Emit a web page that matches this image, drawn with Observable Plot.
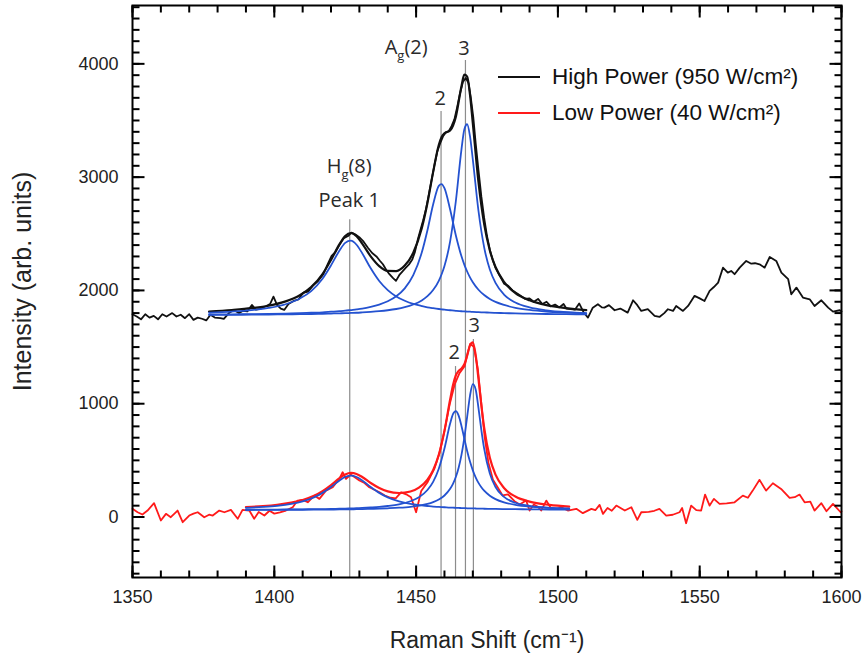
<!DOCTYPE html>
<html><head><meta charset="utf-8">
<script src="https://cdn.jsdelivr.net/npm/d3@7"></script>
<script src="https://cdn.jsdelivr.net/npm/@observablehq/plot@0.6"></script>
<style>
body{margin:0;background:#fff;}
#wrap{position:relative;width:865px;height:666px;font-family:"Liberation Sans",Arial,sans-serif;}
.legend{position:absolute;left:498px;top:0;font-size:22.5px;color:#111;}
.legend .row{position:absolute;left:0;display:flex;align-items:center;height:36px;white-space:nowrap;}
.legend .sw{width:42px;height:2px;margin-right:12px;}
</style></head><body><div id="wrap"></div>
<script>
// ---------- data ----------
const xTicks = [1350, 1400, 1450, 1500, 1550, 1600];
const yTicks = [0, 1000, 2000, 3000, 4000];
const xDomain = [1350, 1600];
const yDomain = [-534, 4515];
const xTitle = "Raman Shift (cm\u207B\u00B9)";
const yTitle = "Intensity (arb. units)";
const seriesNames = ["High Power (950 W/cm\u00B2)", "Low Power (40 W/cm\u00B2)"];
const seriesColors = ["#111111", "#ff1a1a"];
const fitColor = "#2452d0";

const highPowerSpectrum = [
[1350,1790],[1351.5,1770],[1353,1745],[1354.5,1790],[1356,1760],[1357.5,1775],[1359,1745],[1360.5,1790],[1362,1770],[1364,1800],
[1365.5,1770],[1367,1785],[1368.5,1755],[1370,1790],[1371.5,1740],[1373,1760],[1374.5,1750],[1376,1735],[1377.5,1785],[1379,1760],
[1381,1755],[1382.2,1749],[1384,1800],[1385.7,1828],[1387.5,1800],[1389,1820],[1390.5,1815],[1392.1,1872],[1393.5,1830],[1395,1837],
[1397,1860],[1398.5,1880],[1399.7,1945],[1401,1870],[1402.3,1840],[1403.5,1828],[1405,1880],[1406.8,1907],[1408.5,1920],[1410.3,1981],
[1412,1990],[1413.5,2040],[1415.3,2080],[1417.3,2143],[1418.8,2230],[1420.2,2304],[1421.6,2340],[1423.1,2407],[1424.5,2460],[1426,2480],
[1427.2,2510],[1428.5,2495],[1430.2,2465],[1431.5,2430],[1433,2377],[1434.5,2330],[1436,2300],[1437.3,2260],[1438.3,2231],[1439.5,2180],
[1440.6,2143],[1441.8,2110],[1442.9,2084],[1444.2,2140],[1445.3,2170],[1446.4,2201],[1447.5,2230],[1448.6,2270],[1449.6,2340],[1450.6,2450],
[1451.6,2540],[1452.5,2620],[1453.5,2720],[1454.5,2850],[1455.5,2980],[1456.5,3110],[1457.5,3230],[1458.5,3300],[1459.5,3360],[1460.5,3395],
[1461.5,3405],[1462.5,3450],[1463.5,3510],[1464.5,3620],[1465.5,3740],[1466.5,3840],[1467.5,3875],[1468.5,3830],[1469.3,3700],[1470.2,3520],
[1471,3300],[1472,3060],[1473,2830],[1474,2640],[1475,2480],[1476,2360],[1477,2270],[1478,2200],[1479.5,2130],[1481,2060],
[1482.5,2040],[1484,2000],[1485.5,1975],[1487,1950],[1488.5,1925],[1490,1930],[1491.5,1900],[1493,1925],[1494.5,1880],[1496,1900],
[1497.5,1860],[1499,1875],[1500.5,1850],[1502,1880],[1503,1840],[1504.5,1835],[1506,1830],[1507.5,1885],[1509,1810],[1510.6,1760],
[1512.3,1848],[1514.1,1878],[1515.5,1850],[1516.4,1848],[1518,1870],[1520,1825],[1522,1840],[1524.6,1804],[1526.5,1913],[1528,1870],
[1529.4,1819],[1531.7,1834],[1534.1,1775],[1535.8,1766],[1537.5,1800],[1538.8,1834],[1540.6,1819],[1541.7,1863],[1544.1,1819],[1545.9,1863],
[1548.2,1952],[1550,1930],[1551.7,1907],[1553.5,1996],[1555,2030],[1556.5,2069],[1558.2,2201],[1559.9,2157],[1561.1,2172],[1562.3,2143],
[1564.1,2201],[1566.4,2260],[1568.2,2236],[1569.5,2240],[1571.1,2231],[1572.9,2201],[1574.7,2295],[1577,2260],[1578.8,2157],[1581.2,2099],
[1582.3,1966],[1584.1,2025],[1586.4,1937],[1588.8,1922],[1590.5,1863],[1592.9,1913],[1595.3,1848],[1597,1813],[1599.4,1825],[1600,1815]
];

const lowPowerSpectrum = [
[1350,72],[1351.8,42],[1353.5,22],[1355.3,57],[1357.6,122],[1360,-31],[1361.8,28],[1363.5,-2],[1365.9,57],[1367.7,-46],
[1370,13],[1371.5,30],[1373,42],[1375.3,-2],[1377,20],[1378.3,13],[1380.6,57],[1382.4,42],[1384.7,63],[1387.1,-16],
[1388.8,63],[1391.2,57],[1392.9,-16],[1394.5,45],[1396.5,13],[1398.3,55],[1400,30],[1402,40],[1404.1,57],[1406.5,86],
[1408.2,145],[1410,150],[1411.8,130],[1414.1,189],[1415.9,160],[1418.2,233],[1420.6,263],[1422.9,336],[1424.1,395],[1425.3,336],
[1427,374],[1430,322],[1431.8,300],[1433.5,263],[1435.3,240],[1437.1,218],[1439,190],[1441,170],[1442.8,165],[1444.7,218],
[1446.5,200],[1448.2,175],[1450,42],[1451.8,230],[1454.1,310],[1456.5,430],[1458.2,560],[1460,760],[1461.8,990],[1463.6,1170],
[1465.3,1270],[1467.1,1330],[1468.2,1450],[1469.1,1530],[1470.4,1500],[1471.8,1300],[1473,1000],[1474.2,700],[1475.5,480],[1477.1,330],
[1478.8,260],[1480.5,190],[1482.4,200],[1484.7,140],[1486.5,110],[1488.8,145],[1490,57],[1491.5,110],[1493,90],[1494.1,57],
[1495.9,145],[1497.5,80],[1499.5,70],[1501.2,86],[1503.5,57],[1506.5,72],[1508.8,34],[1511.8,72],[1513.2,60],[1514.7,107],
[1515.9,28],[1517.5,80],[1519,55],[1520.6,101],[1523.6,57],[1525.9,86],[1528,-25],[1529.4,42],[1532,45],[1534,55],
[1535.8,72],[1538.2,13],[1540.5,20],[1542.9,42],[1543.8,80],[1545.2,-55],[1547,101],[1548.8,60],[1550.5,57],[1551.9,198],
[1553.5,101],[1555,160],[1557,116],[1559.5,120],[1562.3,130],[1565.2,189],[1567,170],[1568.7,233],[1571.1,328],[1573.4,233],
[1575.8,298],[1578.7,248],[1581.7,169],[1583.5,175],[1585.2,198],[1587,130],[1589,135],[1590.5,57],[1592.9,122],[1594.7,51],
[1597,116],[1599.7,42],[1600,50]
];

// fitted curves, high power
const fitHighShift = [1377,1385,1392,1398,1404,1409,1413,1417,1420,1423,1425,1427,1429,1431,1434,1437,1440,1443,1446,1449,1452,1454,1456,1458,1459,1460,1462,1464,1466,1467,1468,1469,1470,1472,1474,1476,1478,1481,1485,1490,1496,1503,1510];
const fitHighPeak1 = [1803,1813,1826,1845,1878,1928,1994,2103,2221,2353,2420,2439,2403,2328,2195,2083,2003,1947,1909,1881,1862,1851,1843,1836,1833,1830,1825,1820,1816,1815,1813,1812,1810,1808,1806,1804,1802,1800,1797,1795,1792,1790,1788];
const fitHighPeak2 = [1787,1789,1791,1793,1796,1799,1803,1807,1812,1817,1821,1827,1833,1840,1855,1875,1904,1948,2018,2135,2334,2531,2758,2923,2939,2902,2714,2487,2301,2228,2167,2115,2072,2006,1959,1925,1899,1872,1847,1828,1814,1805,1798];
const fitHighPeak3 = [1784,1785,1786,1787,1789,1790,1792,1794,1796,1798,1799,1801,1803,1806,1811,1817,1825,1836,1852,1876,1912,1949,2003,2085,2143,2216,2433,2785,3246,3421,3467,3362,3155,2701,2380,2184,2066,1963,1893,1850,1824,1808,1800];
const fitHighSum   = [1814,1827,1843,1865,1903,1957,2029,2144,2269,2408,2480,2507,2479,2414,2301,2215,2172,2171,2219,2332,2548,2771,3044,3284,3355,3388,3412,3532,3803,3904,3887,3729,3477,2955,2585,2353,2207,2075,1977,1913,1870,1843,1826];

// fitted curves, low power
const fitLowShift = [1390,1396,1401,1406,1410,1414,1417,1420,1423,1425,1427,1429,1431,1434,1437,1440,1444,1448,1451,1454,1456,1458,1460,1462,1463,1464,1465,1466,1467,1468,1469,1470,1471,1472,1473,1474,1476,1478,1481,1485,1490,1497,1504];
const fitLowPeak1 = [81,89,99,116,138,173,213,265,323,353,365,353,323,265,213,173,138,116,105,97,92,89,86,83,82,81,80,79,78,77,76,76,75,74,74,73,72,71,70,69,68,66,65];
const fitLowPeak2 = [64,65,66,67,68,69,70,71,73,74,76,78,80,84,89,97,112,139,174,238,310,426,604,825,908,935,895,804,692,583,489,412,350,301,263,232,188,158,129,107,91,80,73];
const fitLowPeak3 = [62,63,63,64,64,65,65,66,67,67,68,69,70,72,74,77,82,90,100,115,131,154,190,249,293,353,435,548,698,884,1070,1173,1126,962,770,603,383,265,177,126,98,81,73];
const fitLowSum   = [87,96,108,127,150,187,228,282,343,375,389,380,353,300,256,226,212,225,259,330,413,549,760,1037,1163,1249,1290,1311,1348,1424,1515,1541,1431,1217,987,788,523,374,256,181,136,107,92];

// peak marker lines and labels
const peakLineShift = [1426.6, 1458.8, 1467.4, 1463.9, 1470.2];
const peakLineTop   = [2623, 3579, 4029, 1328, 1567];
const labelText  = ["H_g(8)", "Peak 1", "A_g(2)", "3", "2", "3", "2"];
const labelShift = [1426.4, 1426.4, 1446.5, 1466.9, 1458.5, 1470.5, 1463.4];
const labelValue = [3094, 2793, 4144, 4135, 3694, 1690, 1452];

// ---------- build ----------
const W = 865, H = 666, mL = 132, mR = 24, mT = 5, mB = 89;
const innerW = W - mL - mR, innerH = H - mT - mB;
const xMinor = d3.range(1350, 1601, 10);
const yMinor = d3.range(-500, 4501, 100);
const majorLen = 12, minorLen = 7;
// tick lengths in pixels converted into the scales' units
const yPerPx = (yDomain[1] - yDomain[0]) / innerH;
const xPerPx = (xDomain[1] - xDomain[0]) / innerW;

const toRows = (xs, ys) => xs.map((x, i) => ({x, y: ys[i]}));
const peakLines = peakLineShift.map((x, i) => ({x, top: peakLineTop[i]}));
const labels = labelText.map((t, i) => ({t, x: labelShift[i], y: labelValue[i]}));

// inward ticks on all four sides
const tickRows = [];
for (const [vals, len] of [[xMinor, minorLen], [xTicks, majorLen]]) {
  for (const v of vals) {
    tickRows.push({x1: v, x2: v, y1: yDomain[0], y2: yDomain[0] + len * yPerPx});
    tickRows.push({x1: v, x2: v, y1: yDomain[1] - len * yPerPx, y2: yDomain[1]});
  }
}
for (const [vals, len] of [[yMinor, minorLen], [yTicks, majorLen]]) {
  for (const v of vals) {
    tickRows.push({x1: xDomain[0], x2: xDomain[0] + len * xPerPx, y1: v, y2: v});
    tickRows.push({x1: xDomain[1] - len * xPerPx, x2: xDomain[1], y1: v, y2: v});
  }
}

const fitStyle = {x: "x", y: "y", stroke: fitColor, strokeWidth: 1.8, curve: "monotone-x"};

const chart = Plot.plot({
  width: W, height: H,
  marginLeft: mL, marginRight: mR, marginTop: mT, marginBottom: mB,
  x: {domain: xDomain, axis: null},
  y: {domain: yDomain, axis: null},
  style: {fontFamily: '"Liberation Sans", Arial, sans-serif', background: "white", color: "#111"},
  marks: [
    Plot.ruleX(peakLines, {x: "x", y1: yDomain[0], y2: "top", stroke: "#8c8c8c", strokeWidth: 1.2}),
    Plot.line(highPowerSpectrum, {x: d => d[0], y: d => d[1], stroke: seriesColors[0], strokeWidth: 1.8}),
    Plot.line(toRows(fitHighShift, fitHighSum), {x: "x", y: "y", stroke: seriesColors[0], strokeWidth: 2.2, curve: "monotone-x"}),
    Plot.line(toRows(fitHighShift, fitHighPeak1), fitStyle),
    Plot.line(toRows(fitHighShift, fitHighPeak2), fitStyle),
    Plot.line(toRows(fitHighShift, fitHighPeak3), fitStyle),
    Plot.line(lowPowerSpectrum, {x: d => d[0], y: d => d[1], stroke: seriesColors[1], strokeWidth: 1.8}),
    Plot.line(toRows(fitLowShift, fitLowSum), {x: "x", y: "y", stroke: seriesColors[1], strokeWidth: 2.2, curve: "monotone-x"}),
    Plot.line(toRows(fitLowShift, fitLowPeak1), fitStyle),
    Plot.line(toRows(fitLowShift, fitLowPeak2), fitStyle),
    Plot.line(toRows(fitLowShift, fitLowPeak3), fitStyle),
    Plot.link(tickRows, {x1: "x1", x2: "x2", y1: "y1", y2: "y2", stroke: "black", strokeWidth: 2}),
    Plot.frame({stroke: "black", strokeWidth: 2}),
    Plot.text(xTicks, {x: d => d, frameAnchor: "bottom", lineAnchor: "top", dy: 13, text: d => String(d), fontSize: 18, fill: "#222"}),
    Plot.text(yTicks, {y: d => d, frameAnchor: "left", textAnchor: "end", dx: -14, text: d => String(d), fontSize: 18, fill: "#222"}),
    Plot.text([xTitle], {frameAnchor: "bottom", lineAnchor: "middle", textAnchor: "middle", dy: 63, text: d => d, fontSize: 23, fill: "#222"}),
    Plot.text([yTitle], {frameAnchor: "left", lineAnchor: "middle", textAnchor: "middle", dx: -110, dy: -10, rotate: -90, text: d => d, fontSize: 25, fill: "#222"}),
    Plot.text(labels, {x: "x", y: "y", text: "t", fontFamily: '"Open Sans", sans-serif', fontSize: 20, fill: "#2a2a2a"})
  ]
});

// subscripts (H_g, A_g)
d3.select(chart).selectAll("text").each(function () {
  const m = /^(\w)_(\w)(.*)$/.exec(this.textContent);
  if (!m) return;
  const s = d3.select(this);
  s.text(null);
  s.append("tspan").text(m[1]);
  s.append("tspan").attr("font-size", 13).attr("dy", 6).text(m[2]);
  s.append("tspan").attr("dy", -6).text(m[3]);
});

const wrap = document.getElementById("wrap");
wrap.appendChild(chart);

// legend (inside the plot, top right)
const legend = document.createElement("div");
legend.className = "legend";
seriesNames.forEach((name, i) => {
  const row = document.createElement("div");
  row.className = "row";
  row.style.top = (59 + i * 36) + "px";
  const sw = document.createElement("span");
  sw.className = "sw";
  sw.style.background = seriesColors[i];
  const tx = document.createElement("span");
  tx.textContent = name;
  row.appendChild(sw); row.appendChild(tx);
  legend.appendChild(row);
});
wrap.appendChild(legend);
</script></body></html>
